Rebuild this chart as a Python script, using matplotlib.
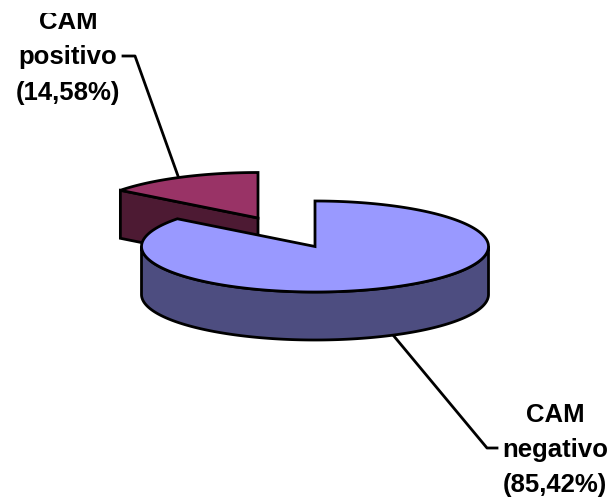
import numpy as np
import matplotlib
matplotlib.use("Agg")
import matplotlib.pyplot as plt
from matplotlib.patches import Polygon, Rectangle

plt.rcParams["font.family"] = ["Liberation Sans", "DejaVu Sans"]

categories = ["CAM\nnegativo", "CAM\npositivo"]
values = [85.42, 14.58]
top_colors = ["#9999FF", "#993366"]
side_colors = ["#4D4D80", "#4D1A33"]

# pie geometry, in pixels
RX, RY = 173.5, 45.5
DEPTH = 48
centers = [(315, 246.5), (258, 218)]
LW = 2.0


def rim(center, a0, a1, n=200):
    # points on the ellipse, angles clockwise from 12 o'clock
    t = np.radians(np.linspace(a0, a1, n))
    return np.column_stack([center[0] + RX * np.sin(t), center[1] - RY * np.cos(t)])


def draw_slice(ax, center, a0, a1, top, side, z):
    cx, cy = center
    # outer wall, only the front half of the rim shows
    w0, w1 = max(a0, 90), min(a1, 270)
    if w1 > w0:
        arc = rim(center, w0, w1)
        wall = np.vstack([arc, arc[::-1] + [0, DEPTH]])
        ax.add_patch(Polygon(wall, closed=True, fc=side, ec="black", lw=LW, zorder=z))
    # the starting cut faces the viewer on the left half of the pie
    if a0 > 180:
        end = rim(center, a0, a0, 1)[0]
        face = [(cx, cy), end, end + [0, DEPTH], (cx, cy + DEPTH)]
        ax.add_patch(Polygon(face, closed=True, fc=side, ec="black", lw=LW, zorder=z))
    poly = np.vstack([[cx, cy], rim(center, a0, a1)])
    ax.add_patch(Polygon(poly, closed=True, fc=top, ec="black", lw=LW, zorder=z + 1))


fig = plt.figure(figsize=(6.11, 4.97), dpi=100)
ax = fig.add_axes([0, 0, 1, 1])
ax.set_xlim(0, 611)
ax.set_ylim(497, 0)
ax.axis("off")

# slice angles come from the values, first slice starts at 12 o'clock
edges = np.concatenate([[0], np.cumsum(values)]) / sum(values) * 360

# back slice first, the big one overlaps it
draw_slice(ax, centers[1], edges[1], edges[2], top_colors[1], side_colors[1], 2)
draw_slice(ax, centers[0], edges[0], edges[1], top_colors[0], side_colors[0], 4)

# leader lines
ax.plot([123, 135, 178], [56, 56, 176], color="black", lw=LW, zorder=1)
ax.plot([393, 487, 497], [335, 448, 448], color="black", lw=LW, zorder=1)

# labels
label_pos = [(555, [422, 457, 492]), (68, [29, 64, 100])]
for cat, val, (x, ys) in zip(categories, values, label_pos):
    lines = cat.split("\n") + ["(" + f"{val:.2f}".replace(".", ",") + "%)"]
    for line, y in zip(lines, ys):
        ax.text(x, y, line, ha="center", va="baseline", fontsize=18.5,
                fontweight="bold", color="black", zorder=6)

# the top label is cut off at the upper edge of the chart area
ax.add_patch(Rectangle((0, 0), 611, 13, fc="white", ec="none", zorder=7))

fig.savefig("out.png", dpi=100)
